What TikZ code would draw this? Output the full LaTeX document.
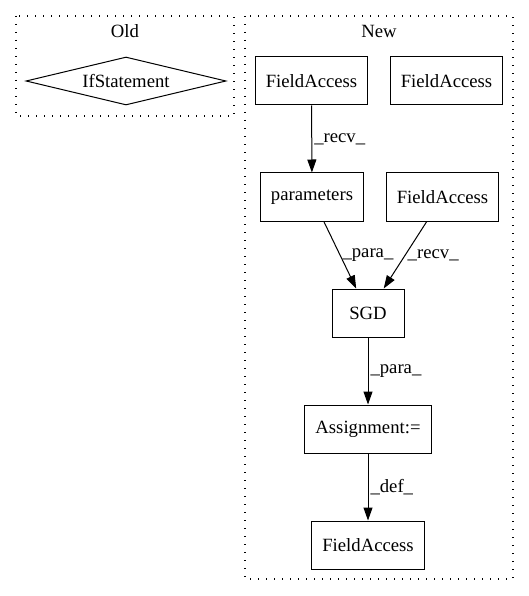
\documentclass[tikz,border=0pt]{standalone}
\usepackage{fontspec}
\setmainfont{Liberation Serif}
\usetikzlibrary{shapes.geometric,arrows.meta}
\begin{document}
\begin{tikzpicture}[x=1bp,y=-1bp,font=\fontsize{18.7bp}{22bp}\selectfont,
        box/.style={draw,line width=1bp,minimum height=48bp,minimum width=72bp,inner xsep=10.5bp},
        cluster/.style={draw,line width=1.2bp,dash pattern=on 1.3bp off 6.7bp},
        edge/.style={-{Triangle[length=13bp,width=9bp]},line width=1bp},
        lbl/.style={right,inner sep=2bp}]
        \useasboundingbox (0,0) rectangle (529,596);
        \draw[cluster] (16,16) rectangle (234,116);
        \draw[cluster] (245,16) rectangle (513,579);
        \node (old) at (125,31) {Old};
        \node (new) at (379,31) {New};
        \node[draw,diamond,line width=1bp,inner sep=0pt,shape aspect=4.2,minimum width=200bp,minimum height=48bp] (ifstmt) at (126,81) {IfStatement};
        \node[box] (fa1) at (311.5,81) {FieldAccess};
        \node[box] (fa2) at (446.5,81) {FieldAccess};
        \node[box] (params) at (312,197) {parameters};
        \node[box] (fa3) at (442.5,197) {FieldAccess};
        \node[box] (sgd) at (368,313) {SGD};
        \node[box] (assign) at (368,429) {Assignment:=};
        \node[box] (fa4) at (368,545) {FieldAccess};
        \draw[edge] (fa1) -- node[lbl]{\_recv\_} (params);
        \draw[edge] (params) -- node[lbl]{\_para\_} (sgd);
        \draw[edge] (fa3) -- node[lbl]{\_recv\_} (sgd);
        \draw[edge] (sgd) -- node[lbl]{\_para\_} (assign);
        \draw[edge] (assign) -- node[lbl]{\_def\_} (fa4);
    \end{tikzpicture}
\end{document}
